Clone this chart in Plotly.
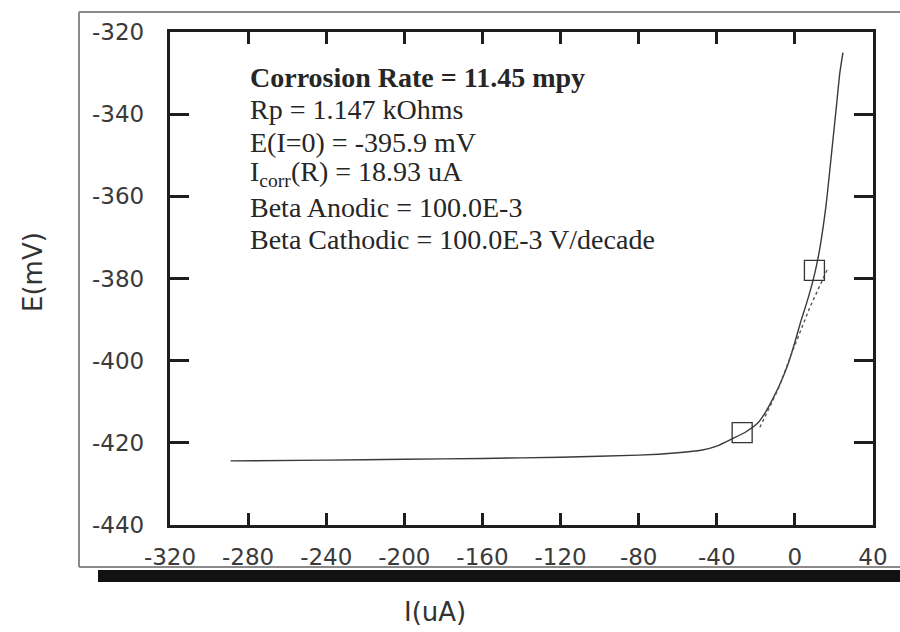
import plotly.graph_objects as go

# Measured polarization curve: current (uA) vs potential (mV)
current_uA = [-289, -240, -200, -160, -120, -80, -60, -48, -40, -32, -25, -19, -15,
              -11, -7, -4, 0, 3, 6, 9, 11, 13, 16, 19, 21.5, 23, 24.6]
potential_mV = [-424.4, -424.2, -424.0, -423.8, -423.5, -423.0, -422.4, -421.8, -420.8,
                -419.0, -417.3, -415.2, -412.5, -409.0, -405.0, -401.5, -395.5, -390.5,
                -386.0, -381.0, -377.0, -372.0, -362.0, -348.5, -337.0, -330.0, -325.0]

# Linear polarization fit segment
fit_current_uA = [-17.9, -8.7, -1.0, 7.7, 16.9]
fit_potential_mV = [-416.2, -407.1, -397.4, -387.0, -377.5]

# Fit-region end markers
marker_current_uA = [-27, 10]
marker_potential_mV = [-417.5, -378]

x_ticks = [-320, -280, -240, -200, -160, -120, -80, -40, 0, 40]
y_ticks = [-440, -420, -400, -380, -360, -340, -320]

info_lines = [
    "<b>Corrosion Rate = 11.45 mpy</b>",
    "Rp = 1.147 kOhms",
    "E(I=0) = -395.9 mV",
    "I<sub>corr</sub>(R) = 18.93 uA",
    "Beta Anodic = 100.0E-3",
    "Beta Cathodic = 100.0E-3 V/decade",
]

fig = go.Figure()
fig.add_trace(go.Scatter(x=current_uA, y=potential_mV, mode="lines",
                         line=dict(color="#3a3a3a", width=1.4, shape="spline", smoothing=0.6),
                         showlegend=False))
fig.add_trace(go.Scatter(x=fit_current_uA, y=fit_potential_mV, mode="lines",
                         line=dict(color="#555555", width=1.4, dash="dot"), showlegend=False))
fig.add_trace(go.Scatter(x=marker_current_uA, y=marker_potential_mV, mode="markers",
                         marker=dict(symbol="square-open", size=20, color="#333333",
                                     line=dict(color="#333333", width=1.3)),
                         showlegend=False))

# pixel helpers for paper-positioned decorations (plot area 170..873 x 32..525)
L, R, T, B = 170, 873, 32, 525
def px(xp):
    return (xp - L) / (R - L)
def py(yp):
    return (B - yp) / (B - T)

tick_font = dict(family="DejaVu Sans", size=23, color="#3a3a3a")

fig.update_xaxes(range=[-320, 40], tickvals=x_ticks, ticktext=[str(v) for v in x_ticks],
                 showline=True, linecolor="#1e1e1e", linewidth=2.7, mirror="ticks",
                 ticks="inside", ticklen=12, tickwidth=3, tickcolor="#1e1e1e",
                 showgrid=False, zeroline=False, tickfont=tick_font,
                 ticklabelstandoff=10)
fig.update_yaxes(range=[-440, -320], tickvals=y_ticks, ticktext=[str(v) for v in y_ticks],
                 showline=True, linecolor="#1e1e1e", linewidth=3.3, mirror="ticks",
                 ticks="inside", ticklen=19, tickwidth=3, tickcolor="#1e1e1e",
                 showgrid=False, zeroline=False, tickfont=tick_font,
                 ticklabelstandoff=18)

annotations = []
line_y = [77, 110, 142, 174, 207, 239]
for txt, yy in zip(info_lines, line_y):
    annotations.append(dict(text=txt, xref="paper", yref="paper", x=px(248), y=py(yy),
                            xanchor="left", yanchor="middle", showarrow=False,
                            font=dict(family="Liberation Serif", size=28, color="#262626")))
annotations.append(dict(text="I(uA)", xref="paper", yref="paper", x=px(435), y=py(612),
                        xanchor="center", yanchor="middle", showarrow=False,
                        font=dict(family="DejaVu Sans", size=26, color="#333333")))
annotations.append(dict(text="E(mV)", xref="paper", yref="paper", x=px(33), y=py(272),
                        xanchor="center", yanchor="middle", showarrow=False, textangle=-90,
                        font=dict(family="DejaVu Sans", size=26, color="#333333")))

frame_line = dict(color="#8a8a8a", width=2)
shapes = [
    # outer frame: top, left and bottom edges running to the right border
    dict(type="line", xref="paper", yref="paper", x0=px(79), x1=px(900), y0=py(12), y1=py(12),
         line=frame_line, layer="below"),
    dict(type="line", xref="paper", yref="paper", x0=px(79), x1=px(79), y0=py(12), y1=py(567),
         line=frame_line, layer="below"),
    dict(type="line", xref="paper", yref="paper", x0=px(79), x1=px(900), y0=py(567), y1=py(567),
         line=frame_line, layer="below"),
    # drop shadow bar under the frame
    dict(type="rect", xref="paper", yref="paper", x0=px(98), x1=px(900), y0=py(582), y1=py(570),
         line=dict(width=0), fillcolor="#121212", layer="below"),
]

fig.update_layout(width=900, height=632, autosize=False,
                  margin=dict(l=L, r=900 - R, t=T, b=632 - B),
                  paper_bgcolor="white", plot_bgcolor="white",
                  annotations=annotations, shapes=shapes)

fig.write_html("out.html")
